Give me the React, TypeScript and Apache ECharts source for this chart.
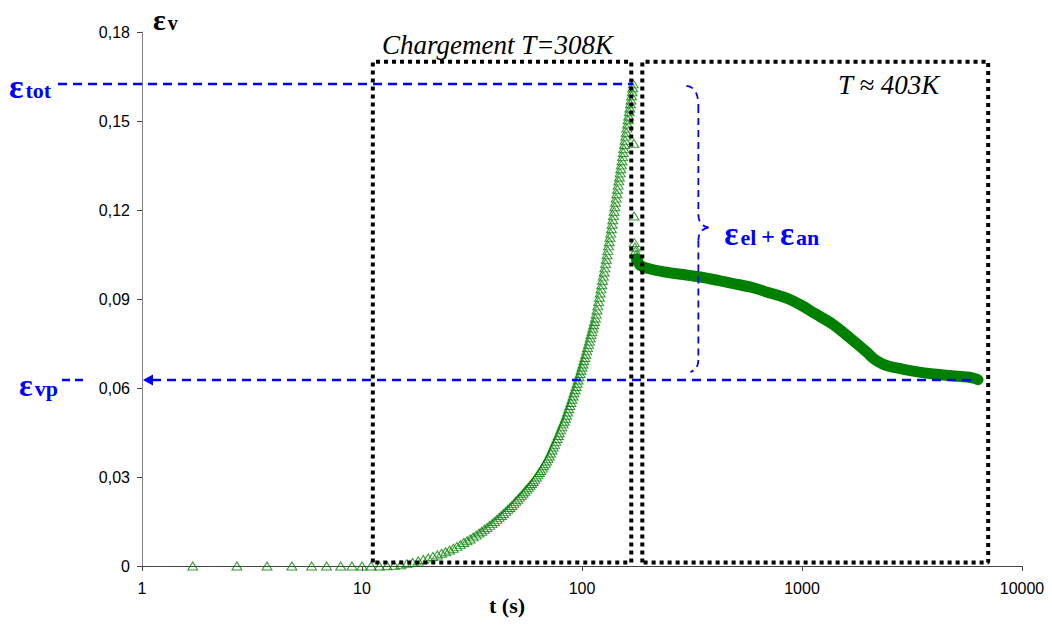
import React, { useEffect, useRef } from "react";
import * as echarts from "echarts";

// Loading phase (T = 308 K), hollow triangles, t in s, strain εv
const LOAD_T = [
  1.7, 2.7, 3.7, 4.8, 5.9, 6.9, 8.0, 9.0, 10, 11, 12, 13, 14, 15, 16, 17, 18, 19, 20,
  21, 22, 23, 24, 25, 26, 27, 28, 29, 30, 31, 32, 33, 34, 35, 36, 37, 38, 39, 40, 41,
  42, 43, 44, 45, 46, 47, 48, 49, 50, 51, 52, 53, 54, 55, 56, 57, 58, 59, 60, 61, 62,
  63, 64, 65, 66, 67, 68, 69, 70, 71, 72, 73, 74, 75, 76, 77, 78, 79, 80, 81, 82, 83,
  84, 85, 86, 87, 88, 89, 90, 91, 92, 93, 94, 95, 96, 97, 98, 99, 100, 101, 102, 103,
  104, 105, 106, 107, 108, 109, 110, 111, 112, 113, 114, 115, 116, 117, 118, 119, 120,
  121, 122, 123, 124, 125, 126, 127, 128, 129, 130, 131, 132, 133, 134, 135, 136, 137,
  138, 139, 140, 141, 142, 143, 144, 145, 146, 147, 148, 149, 150, 151, 152, 153, 154,
  155, 156, 157, 158, 159, 160, 161, 162, 163, 164, 165, 166, 167, 168, 169, 170, 171,
];
const LOAD_EPS = [
  0, 0, 0, 0, 0, 0, 0, 0, 0, 0, 0, 0.0001, 0.0002, 0.0004, 0.0008, 0.0012, 0.0017,
  0.0022, 0.0027, 0.0032, 0.0037, 0.0043, 0.0048, 0.0054, 0.006, 0.0066, 0.0072,
  0.0079, 0.0085, 0.0091, 0.0098, 0.0104, 0.0111, 0.0117, 0.0124, 0.013, 0.0137,
  0.0143, 0.015, 0.0157, 0.0164, 0.017, 0.0177, 0.0184, 0.0191, 0.0197, 0.0204,
  0.0211, 0.0218, 0.0225, 0.0232, 0.0238, 0.0245, 0.0252, 0.0259, 0.0265, 0.0272,
  0.0278, 0.0285, 0.0292, 0.03, 0.0307, 0.0315, 0.0322, 0.033, 0.0338, 0.0346, 0.0354,
  0.0362, 0.0371, 0.0381, 0.0391, 0.0401, 0.041, 0.042, 0.043, 0.044, 0.0449, 0.0459,
  0.0469, 0.0479, 0.0488, 0.0498, 0.0508, 0.0519, 0.053, 0.0541, 0.0551, 0.0562,
  0.0573, 0.0584, 0.0594, 0.0605, 0.0616, 0.0627, 0.0638, 0.0649, 0.066, 0.0671,
  0.0681, 0.0692, 0.0703, 0.0714, 0.0725, 0.0736, 0.0747, 0.0758, 0.0769, 0.078,
  0.0791, 0.0802, 0.0813, 0.0824, 0.0836, 0.0849, 0.0863, 0.0877, 0.0891, 0.0906,
  0.092, 0.0934, 0.0948, 0.0963, 0.0977, 0.0991, 0.1005, 0.102, 0.1034, 0.1049,
  0.1064, 0.1079, 0.1093, 0.1108, 0.1122, 0.1137, 0.1152, 0.1167, 0.1181, 0.1196,
  0.1211, 0.1226, 0.124, 0.1255, 0.127, 0.1284, 0.1298, 0.1311, 0.1325, 0.1339,
  0.1352, 0.1366, 0.138, 0.1394, 0.1407, 0.1421, 0.1435, 0.1449, 0.1462, 0.1476,
  0.149, 0.1504, 0.1517, 0.1531, 0.1544, 0.1558, 0.1571, 0.1585, 0.1598, 0.1612, 0.1625,
];
// Drop at the temperature change
const DROP_T = [172, 172.5, 173, 174, 175, 176, 177];
const DROP_EPS = [0.1425, 0.118, 0.109, 0.1075, 0.1062, 0.105, 0.104];

// Holding phase (T ≈ 403 K), dense markers forming a thick band
const HOLD_T = [
  177, 185, 200, 230, 270, 345, 420, 488, 600, 695, 850, 985, 1150, 1380, 1658, 1977,
  2109, 2342, 2797, 3300, 3963, 4800, 5620, 6100, 6310,
];
const HOLD_EPS = [
  0.1035, 0.1012, 0.1003, 0.0993, 0.0985, 0.0974, 0.0962, 0.0952, 0.0938, 0.0923,
  0.0903, 0.088, 0.085, 0.0815, 0.0768, 0.072, 0.07, 0.068, 0.0665, 0.0655, 0.0647,
  0.0641, 0.0637, 0.0632, 0.0628,
];

const X_TICKS = [1, 10, 100, 1000, 10000];

// Annotation values
const EPS_TOT = 0.1625;
const EPS_VP = 0.0627;
const T_PEAK = 171;
const T_END = 6310;
const BOX1 = { t0: 11.2, t1: 167.5, e0: 0.0012, e1: 0.17 };
const BOX2 = { t0: 188, t1: 7020, e0: 0.0012, e1: 0.17 };
const T_BRACE = 338;

const GREEN = "#008000";
const BLUE = "#0000ff";
const SERIF = "'Liberation Serif', 'Times New Roman', serif";
const SANS = "'Liberation Sans', Arial, sans-serif";

function boxData(b: { t0: number; t1: number; e0: number; e1: number }) {
  return [
    [b.t0, b.e0],
    [b.t0, b.e1],
    [b.t1, b.e1],
    [b.t1, b.e0],
    [b.t0, b.e0],
  ];
}

export default function App() {
  const ref = useRef<HTMLDivElement>(null);
  useEffect(() => {
    if (!ref.current) return;
    const chart = echarts.init(ref.current, undefined, { renderer: "svg" });
    const boxStyle = {
      type: "line" as const,
      symbol: "none",
      silent: true,
      z: 5,
      lineStyle: { color: "#000", width: 4, type: [4, 4] as any, cap: "butt" as const },
    };
    chart.setOption({
      animation: false,
      backgroundColor: "#fff",
      grid: { left: 142, right: 30, top: 32, bottom: 65, containLabel: false },
      xAxis: {
        type: "log",
        logBase: 10,
        min: 1,
        max: 10000,
        axisLine: { show: true, lineStyle: { color: "#444", width: 1 } },
        axisTick: { show: true, inside: false, length: 5, lineStyle: { color: "#444" } },
        minorTick: { show: false },
        splitLine: { show: false },
        axisLabel: {
          color: "#000",
          fontFamily: SANS,
          fontSize: 16,
          margin: 14,
          formatter: (v: number) => (X_TICKS.includes(Math.round(v)) ? String(Math.round(v)) : ""),
        },
      },
      yAxis: {
        type: "value",
        min: 0,
        max: 0.18,
        interval: 0.03,
        axisLine: { show: true, onZero: false, lineStyle: { color: "#808080", width: 1 } },
        axisTick: { show: true, inside: false, length: 5, lineStyle: { color: "#444" } },
        splitLine: { show: false },
        axisLabel: {
          color: "#000",
          fontFamily: SANS,
          fontSize: 16,
          margin: 12,
          formatter: (v: number) => (v === 0 ? "0" : v.toFixed(2).replace(".", ",")),
        },
      },
      series: [
        {
          type: "line",
          data: HOLD_T.map((t, i) => [t, HOLD_EPS[i]]),
          symbol: "none",
          smooth: 0.3,
          z: 2,
          lineStyle: { color: GREEN, width: 11, cap: "round", join: "round" },
        },
        {
          type: "scatter",
          data: LOAD_T.map((t, i) => [t, LOAD_EPS[i]]).concat(DROP_T.map((t, i) => [t, DROP_EPS[i]])),
          symbol: "triangle",
          symbolSize: [10, 8],
          z: 3,
          itemStyle: { color: "rgba(255,255,255,0)", borderColor: GREEN, borderWidth: 1 },
        },
        { ...boxStyle, data: boxData(BOX1) },
        { ...boxStyle, data: boxData(BOX2) },
      ],
    });

    const px = (t: number, e: number) => chart.convertToPixel({ gridIndex: 0 }, [t, e]) as number[];
    const pTot = px(T_PEAK, EPS_TOT);
    const pVp = px(T_END, EPS_VP);
    const axisX = px(1, 0)[0];
    const yVp = pVp[1];
    const yTot = pTot[1];
    const bx = px(T_BRACE, 0)[0];
    const yMid = px(T_BRACE, (EPS_TOT + EPS_VP) / 2 + 0.0015)[1];
    const dashStyle = { stroke: BLUE, lineWidth: 2.5, lineDash: [9, 6] };
    const braceStyle = { stroke: BLUE, lineWidth: 1.8, lineDash: [7, 5], fill: "none" };
    const epsRich = (color: string, big: number, small: number) => ({
      e: { fontSize: big, fontWeight: "bold", fontFamily: SERIF, fill: color },
      s: { fontSize: small, fontWeight: "bold", fontFamily: SERIF, fill: color, padding: [7, 0, 0, 2] },
      p: { fontSize: small + 2, fontWeight: "bold", fontFamily: SERIF, fill: color, padding: [5, 5, 0, 5] },
    });
    const yT = yTot + 2;
    const yB = yVp - 8;

    chart.setOption({
      graphic: [
        // epsilon_tot
        { type: "line", z: 10, shape: { x1: 58, y1: yTot, x2: pTot[0], y2: yTot }, style: dashStyle },
        {
          type: "text", z: 10, x: 9, y: yTot + 3,
          style: { text: "{e|ε}{s|tot}", rich: epsRich(BLUE, 34, 22), verticalAlign: "middle", align: "left" },
        },
        // epsilon_vp
        { type: "line", z: 10, shape: { x1: axisX + 10, y1: yVp, x2: pVp[0], y2: yVp }, style: dashStyle },
        { type: "line", z: 10, shape: { x1: 62, y1: yVp, x2: 83, y2: yVp }, style: { ...dashStyle, lineDash: [8, 5] } },
        {
          type: "polygon", z: 10,
          shape: { points: [[axisX + 1, yVp], [axisX + 11, yVp - 5.5], [axisX + 11, yVp + 5.5]] },
          style: { fill: BLUE },
        },
        {
          type: "text", z: 10, x: 19, y: yVp + 5,
          style: { text: "{e|ε}{s|vp}", rich: epsRich(BLUE, 32, 22), verticalAlign: "middle", align: "left" },
        },
        // brace
        { type: "bezierCurve", z: 10, shape: { x1: bx - 12, y1: yT, cpx1: bx, cpy1: yT + 1, x2: bx, y2: yT + 20 }, style: braceStyle },
        { type: "line", z: 10, shape: { x1: bx, y1: yT + 20, x2: bx, y2: yMid - 13 }, style: braceStyle },
        { type: "bezierCurve", z: 10, shape: { x1: bx, y1: yMid - 13, cpx1: bx, cpy1: yMid - 2, x2: bx + 10, y2: yMid }, style: braceStyle },
        { type: "bezierCurve", z: 10, shape: { x1: bx + 10, y1: yMid, cpx1: bx, cpy1: yMid + 2, x2: bx, y2: yMid + 13 }, style: braceStyle },
        { type: "line", z: 10, shape: { x1: bx, y1: yMid + 13, x2: bx, y2: yB - 12 }, style: braceStyle },
        { type: "bezierCurve", z: 10, shape: { x1: bx, y1: yB - 12, cpx1: bx, cpy1: yB - 3, x2: bx - 8, y2: yB }, style: braceStyle },
        {
          type: "text", z: 10, x: bx + 26, y: yMid + 6,
          style: { text: "{e|ε}{s|el}{p|+}{e|ε}{s|an}", rich: epsRich(BLUE, 33, 22), verticalAlign: "middle", align: "left" },
        },
        // axis titles
        {
          type: "text", z: 10, x: 153, y: 19,
          style: { text: "{e|ε}{s|v}", rich: epsRich("#000", 30, 20), verticalAlign: "middle", align: "left" },
        },
        {
          type: "text", z: 10, x: 507, y: 605,
          style: { text: "t (s)", fontFamily: SERIF, fontWeight: "bold", fontSize: 22, fill: "#000", align: "center", verticalAlign: "middle" },
        },
        // box captions
        {
          type: "text", z: 10, x: 382, y: 45,
          style: { text: "Chargement T=308K", fontFamily: SERIF, fontStyle: "italic", fontSize: 27, fill: "#000", align: "left", verticalAlign: "middle" },
        },
        {
          type: "text", z: 10, x: 838, y: 85,
          style: { text: "T ≈ 403K", fontFamily: SERIF, fontStyle: "italic", fontSize: 27, fill: "#000", align: "left", verticalAlign: "middle" },
        },
      ],
    });
    return () => chart.dispose();
  }, []);
  return <div ref={ref} style={{ position: "absolute", left: 0, top: 0, width: 1052, height: 631 }} />;
}
